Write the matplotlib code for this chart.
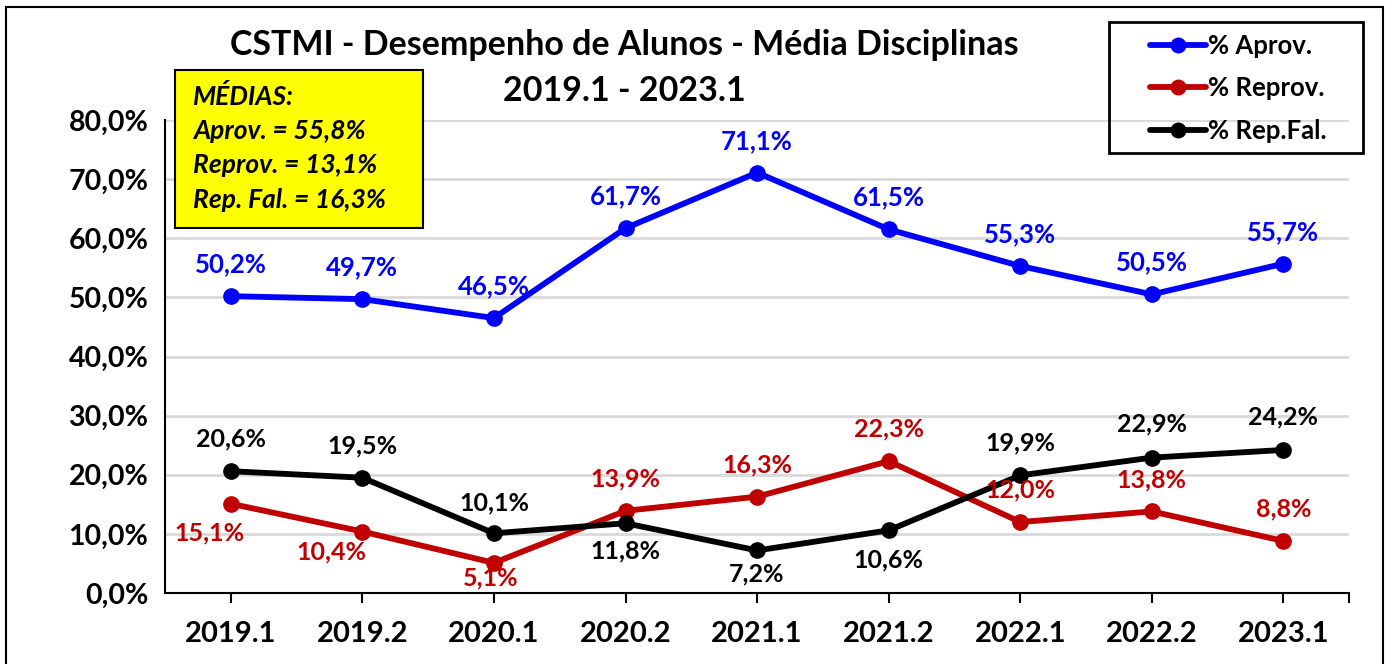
import matplotlib.pyplot as plt
from matplotlib.patches import Rectangle
import matplotlib.ticker as mtick

periodos = ['2019.1', '2019.2', '2020.1', '2020.2', '2021.1', '2021.2', '2022.1', '2022.2', '2023.1']
aprov = [50.2, 49.7, 46.5, 61.7, 71.1, 61.5, 55.3, 50.5, 55.7]
reprov = [15.1, 10.4, 5.1, 13.9, 16.3, 22.3, 12.0, 13.8, 8.8]
rep_fal = [20.6, 19.5, 10.1, 11.8, 7.2, 10.6, 19.9, 22.9, 24.2]
medias = ['MÉDIAS:', 'Aprov. = 55,8%', 'Reprov. = 13,1%', 'Rep. Fal. = 16,3%']

# label offsets (points) relative to each marker
off_aprov = [(0, 23)] * 9
off_reprov = [(-15, -21), (-22, -15), (-2, -11), (0, 23), (0, 23), (0, 23), (0, 23), (0, 23), (0, 23)]
off_fal = [(0, 23), (0, 23), (0, 22), (0, -20), (0, -17), (0, -21), (0, 23), (0, 24), (0, 24)]

plt.rcParams['font.family'] = ['Lato', 'DejaVu Sans']
plt.rcParams['font.weight'] = 'bold'

fig = plt.figure(figsize=(13.91, 6.64), dpi=100)
ax = fig.add_axes([0.1186, 0.1069, 0.8514, 0.7124])

x = list(range(len(periodos)))
series = [
    (aprov, '#0000FF', '% Aprov.', off_aprov, 18.5),
    (reprov, '#C00000', '% Reprov.', off_reprov, 18),
    (rep_fal, '#000000', '% Rep.Fal.', off_fal, 18),
]
for vals, col, lab, offs, fs in series:
    ax.plot(x, vals, color=col, lw=4.2, marker='o', ms=11, label=lab,
            solid_capstyle='round', zorder=3)
    for xi, v, o in zip(x, vals, offs):
        ax.annotate(f'{v:.1f}%'.replace('.', ','), (xi, v), xytext=o,
                    textcoords='offset points', ha='center', va='center',
                    color=col, fontsize=fs, fontweight='bold', zorder=4)

ax.set_xlim(-0.5, 8.5)
ax.set_ylim(0, 80)
ax.set_yticks(range(0, 81, 10))
ax.yaxis.set_major_formatter(mtick.FuncFormatter(lambda v, p: f'{v:.1f}%'.replace('.', ',')))
ax.set_xticks(x + [8.5])
ax.set_xticklabels(periodos + [''])
ax.grid(axis='y', color='#d9d9d9', lw=2)
ax.set_axisbelow(True)
for s in ['top', 'right']:
    ax.spines[s].set_visible(False)
ax.spines['left'].set_linewidth(1.5)
ax.spines['bottom'].set_linewidth(1.5)
ax.tick_params(axis='y', length=0, labelsize=20.5, pad=12)
ax.tick_params(axis='x', length=7, width=1.5, labelsize=21, pad=13)

# titles
fig.text(0.449, 0.932, 'CSTMI - Desempenho de Alunos - Média Disciplinas',
         ha='center', va='center', fontsize=24.5, fontweight='bold')
fig.text(0.449, 0.863, '2019.1 - 2023.1', ha='center', va='center',
         fontsize=24.5, fontweight='bold')

# yellow box with averages
fig.patches.append(Rectangle((0.1258, 0.6566), 0.1783, 0.238, transform=fig.transFigure,
                             facecolor='#FFFF00', edgecolor='black', lw=1.5, zorder=5))
for i, t in enumerate(medias):
    fig.text(0.1388, 0.854 - i * 0.0515, t, ha='left', va='center', fontsize=19,
             fontweight='bold', fontstyle='italic', zorder=6)

# legend: items without frame, frame drawn separately
leg = fig.legend(loc='upper left', bbox_to_anchor=(0.8268, 0.949),
                 prop={'size': 18.5, 'weight': 'bold'},
                 handlelength=2.17, frameon=False, borderpad=0, borderaxespad=0,
                 labelspacing=0.72, handletextpad=0.1, markerscale=0.95)
for t in leg.get_texts():
    t.set_fontweight('bold')
    t.set_fontfamily(['Lato', 'DejaVu Sans'])
fig.patches.append(Rectangle((1109 / 1391, 1 - 153 / 664), 254 / 1391, 131 / 664,
                             transform=fig.transFigure, facecolor='none',
                             edgecolor='black', lw=2, zorder=5))

# outer border
fig.patches.append(Rectangle((0.0043, -0.01), 0.9900, 0.9995, transform=fig.transFigure,
                             facecolor='none', edgecolor='black', lw=1.5, zorder=7))

fig.savefig('out.png', dpi=100)
